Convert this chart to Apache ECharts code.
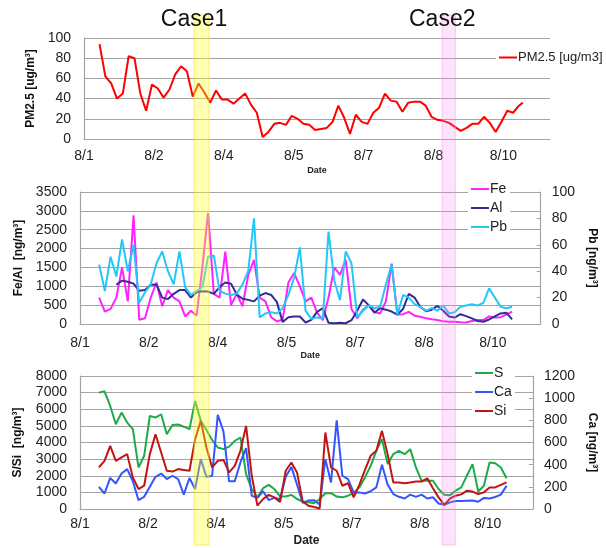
<!DOCTYPE html>
<html><head><meta charset="utf-8">
<script src="https://cdn.jsdelivr.net/npm/echarts@6/dist/echarts.min.js"></script>
<style>html,body{margin:0;padding:0;background:#fff}#c{width:606px;height:548px}</style>
</head><body><div id="c"></div>
<script>
// x tick labels (every 36 hours from 8/1 00:00)
const xLabels = ['8/1','8/2','8/4','8/5','8/7','8/8','8/10'];
// sampling hours (hours since 8/1 00:00)
const hoursPM = [8,11,14,17,20,23,26,29,32,35,38,41,44,47,50,53,56,59,62,65,68,71,74,77,80,83,86,89,92,95,98,101,104,107,110,113,116,119,122,125,128,131,134,137,140,143,146,149,152,155,158,161,164,167,170,173,176,179,182,185,188,191,194,197,200,203,206,209,212,215,218,221,224,226];
const hoursEl = [10,13,16,19,22,25,28,31,34,37,40,43,46,49,52,55,58,61,64,67,70,73,76,79,82,85,88,91,94,97,100,103,106,109,112,115,118,121,124,127,130,133,136,139,142,145,148,151,154,157,160,163,166,169,172,175,178,181,184,187,190,193,196,199,202,205,208,211,214,217,220,223,226];

const pm25 = [94,62,55,40,45,82,80,45,28,54, 50,41,49,64,72,67,42,55,46,36, 48,39,39,35,40,45,34,26,2,7, 15,16,14,23,20,15,14,9,10,11, 17,33,21,5,24,17,15,26,31,45, 38,37,27,36,37,37,33,22,19,18, 16,12,8,11,15,15,22,16,7,17, 28,26,33,36];
const fe = [700,330,400,700,1500,600,2880,115,150,700, 1100,470,900,700,600,200,350,220,1500,2950, 800,700,1920,500,800,470,1300,1700,700,600, 180,70,120,1100,1350,1000,600,700,300,100, 700,1500,1300,1700,400,150,380,500,320,280, 600,1600,250,260,320,220,190,150,125,106, 70,60,60,45,40,80,106,106,200,170, 180,250,330];
const al = [null,null,null,1040,1150,1120,1070,880,900,1040, 1050,700,660,800,900,900,700,840,870,860, 800,980,1100,1070,780,670,640,600,750,820, 770,580,50,180,200,200,40,110,320,420, 30,20,30,20,100,350,650,500,300,420, 380,330,250,400,800,700,450,340,380,480, 350,200,170,260,210,150,80,60,120,200, 280,300,120];
const pb = [45,25,51,36,64,40,60,16,24,30, 46,55,40,30,55,28,22,25,28,51, 52,25,23,22,23,30,40,80,5,8, 9,8,12,22,35,58,10,4,5,4, 70,33,18,55,46,5,10,14,12,13, 30,45,7,22,20,15,13,10,12,10, 14,8,9,13,14,15,14,16,27,20, 13,12,13];
const s = [7000,7080,6200,5100,5800,5200,4800,2500,3200,5600, 5500,5700,4500,5050,5080,4950,4800,6500,5300,4750, 4150,3700,3600,3750,4100,4300,2100,1200,700,1250, 1450,1200,760,750,850,600,450,400,350,600, 950,950,750,700,800,950,1300,1900,2600,3500, 4200,2700,3300,3500,3300,3600,2500,1700,1700,1700, 1200,850,820,1100,1300,2000,2700,1050,1400,2800, 2750,2500,1850];
const ca = [200,140,280,230,320,360,250,80,110,200, 290,320,270,300,270,130,280,180,450,290, 300,850,700,250,250,420,550,120,100,160, 80,100,90,290,380,220,55,76,80,40, 450,240,800,300,270,150,150,140,160,195, 400,220,135,110,95,130,110,130,95,106, 50,38,60,72,72,75,76,65,100,95, 108,130,209];
const si = [2500,2900,3800,2900,3100,3300,1900,1200,1400,3300, 4500,3400,2300,2250,2400,2350,2300,4200,5300,3700, 2500,2900,2950,2200,2600,3500,5000,2000,200,600, 850,700,420,2300,2800,2200,450,200,120,30, 4600,2500,2300,1400,1550,700,1450,2350,3200,3500, 4700,3300,1600,1600,1550,1600,1650,1650,1850,1250, 700,250,620,800,880,1100,1050,900,1000,1290, 1300,1450,1600];

// highlighted episodes (hours)
const caseNames = ['Case1','Case2'];
const caseStart = [56.7, 184.5];
const caseEnd = [64.4, 191.2];
const caseFill = ['rgba(255,255,40,0.36)','rgba(250,120,235,0.2)'];
const caseStroke = ['rgba(235,225,60,0.6)','rgba(240,150,230,0.5)'];

const FONT = 'Liberation Sans, Arial, sans-serif';
const gridColor = '#a4a4a4';
const pair = (hs, vs) => hs.map((h, i) => [h, vs[i]]);

function xAxisCfg(gi, max, margin, nameSize) {
  return {
    type: 'value', gridIndex: gi, min: 0, max: max, interval: 36,
    axisLine: {show: true, lineStyle: {color: gridColor, width: 1.2}},
    axisTick: {show: false}, splitLine: {show: false},
    axisLabel: {margin: margin, color: '#222', fontSize: 14, fontFamily: FONT,
      formatter: v => (v % 36 === 0 && v / 36 < xLabels.length) ? xLabels[v / 36] : '', showMaxLabel: false},
    name: 'Date', nameLocation: 'middle', nameGap: nameSize > 10 ? 26 : 27,
    nameTextStyle: {fontWeight: 'bold', fontSize: nameSize, color: '#222', fontFamily: FONT, verticalAlign: 'top'}
  };
}
function yLeft(gi, max, interval, name, gap) {
  return {
    type: 'value', gridIndex: gi, min: 0, max: max, interval: interval, position: 'left',
    axisLine: {show: true, lineStyle: {color: gridColor, width: 1.2}},
    axisTick: {show: false},
    splitLine: {show: true, lineStyle: {color: gridColor, width: 1.2}},
    axisLabel: {margin: 13, color: '#222', fontSize: 14, fontFamily: FONT, formatter: v => String(v)},
    name: name, nameLocation: 'middle', nameGap: gap,
    nameTextStyle: {fontWeight: 'bold', fontSize: 12, color: '#111', fontFamily: FONT}
  };
}
function yRight(gi, max, interval, name, gap) {
  return {
    type: 'value', gridIndex: gi, min: 0, max: max, interval: interval, position: 'right',
    axisLine: {show: true, lineStyle: {color: gridColor, width: 1.2}},
    axisTick: {show: true, inside: true, length: 4, lineStyle: {color: gridColor}},
    splitLine: {show: false},
    axisLabel: {margin: 11, color: '#222', fontSize: 14, fontFamily: FONT, formatter: v => String(v)},
    name: name, nameLocation: 'middle', nameGap: gap, nameRotate: -90,
    nameTextStyle: {fontWeight: 'bold', fontSize: 12, color: '#111', fontFamily: FONT}
  };
}
function line(name, xi, yi, hs, vs, color) {
  return {
    name: name, type: 'line', xAxisIndex: xi, yAxisIndex: yi, data: pair(hs, vs),
    showSymbol: false, symbol: 'none', connectNulls: false, animation: false,
    lineStyle: {color: color, width: 2}, itemStyle: {color: color}
  };
}
const legendBase = {icon: 'rect', itemWidth: 18, itemHeight: 2, itemGap: 5, backgroundColor: '#fff',
  padding: [1, 3], textStyle: {fontSize: 14, color: '#222', fontFamily: FONT, padding: [0, 0, 0, -4]}};

const option = {
  animation: false,
  backgroundColor: '#fff',
  grid: [
    {left: 84, right: 56, top: 38, height: 101},
    {left: 80, right: 59, top: 192, height: 132},
    {left: 80, right: 61, top: 376, height: 136}
  ],
  xAxis: [xAxisCfg(0, 240, 10, 9), xAxisCfg(1, 241, 12, 9), xAxisCfg(2, 240, 8, 12)],
  yAxis: [
    yLeft(0, 100, 20, 'PM2.5 [ug/m³]', 44),
    yLeft(1, 3500, 500, 'Fe/Al  [ng/m³]', 55),
    yRight(1, 100, 20, 'Pb [ng/m³]', 37),
    yLeft(2, 8000, 1000, 'S/Si  [ng/m³]', 56),
    yRight(2, 1200, 200, 'Ca [ng/m³]', 46)
  ],
  legend: [
    Object.assign({}, legendBase, {data: ['PM2.5 [ug/m3]'], left: 496, top: 50, textStyle: Object.assign({}, legendBase.textStyle, {fontSize: 13})}),
    Object.assign({}, legendBase, {data: ['Fe', 'Al', 'Pb'], orient: 'vertical', left: 468, top: 181}),
    Object.assign({}, legendBase, {data: ['S', 'Ca', 'Si'], orient: 'vertical', left: 472, top: 365})
  ],
  series: [
    line('PM2.5 [ug/m3]', 0, 0, hoursPM, pm25, '#ff0000'),
    line('Fe', 1, 1, hoursEl, fe, '#ff22ff'),
    line('Al', 1, 1, hoursEl, al, '#332c96'),
    line('Pb', 1, 2, hoursEl, pb, '#22c8f8'),
    line('S', 2, 3, hoursEl, s, '#1faa48'),
    line('Ca', 2, 4, hoursEl, ca, '#3355ff'),
    line('Si', 2, 3, hoursEl, si, '#c01515')
  ]
};

const chart = echarts.init(document.getElementById('c'), null, {renderer: 'canvas'});
chart.setOption(option);
const g = [];
for (let i = 0; i < caseNames.length; i++) {
  const x1 = chart.convertToPixel({xAxisIndex: 0}, caseStart[i]);
  const x2 = chart.convertToPixel({xAxisIndex: 0}, caseEnd[i]);
  g.push({type: 'rect', z: 100, silent: true,
    shape: {x: x1, y: 15, width: x2 - x1, height: 530},
    style: {fill: caseFill[i], stroke: caseStroke[i], lineWidth: 1}});
  g.push({type: 'text', z: 101, silent: true, x: x1, y: 20,
    style: {text: caseNames[i], font: '23px ' + FONT, fill: '#111', textAlign: 'center', textVerticalAlign: 'middle'}});
}
chart.setOption({graphic: g});
</script></body></html>
